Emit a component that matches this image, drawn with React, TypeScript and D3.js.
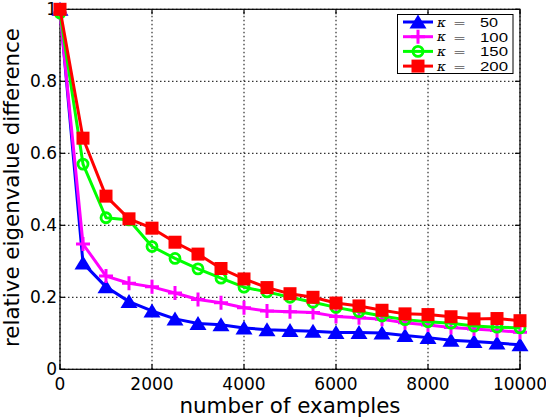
import { useEffect, useRef } from "react";
import * as d3 from "d3";

const examples = [
  0, 500, 1000, 1500, 2000, 2500, 3000, 3500, 4000, 4500, 5000, 5500, 6000,
  6500, 7000, 7500, 8000, 8500, 9000, 9500, 10000,
];
const kappas = [50, 100, 150, 200];

const kappa50 = [
  1.0, 0.295, 0.229, 0.188, 0.162, 0.14, 0.127, 0.124, 0.115, 0.11, 0.108,
  0.106, 0.102, 0.102, 0.101, 0.094, 0.088, 0.081, 0.077, 0.073, 0.068,
];
const kappa100 = [
  0.99, 0.348, 0.259, 0.239, 0.229, 0.212, 0.194, 0.185, 0.171, 0.162, 0.16,
  0.158, 0.147, 0.143, 0.139, 0.129, 0.123, 0.116, 0.112, 0.108, 0.103,
];
const kappa150 = [
  0.99, 0.57, 0.421, 0.415, 0.341, 0.308, 0.279, 0.253, 0.228, 0.215, 0.2,
  0.186, 0.172, 0.16, 0.148, 0.138, 0.132, 0.128, 0.12, 0.117, 0.115,
];
const kappa200 = [
  1.0, 0.642, 0.481, 0.418, 0.392, 0.353, 0.32, 0.28, 0.251, 0.227, 0.21,
  0.2, 0.184, 0.176, 0.164, 0.154, 0.152, 0.146, 0.14, 0.141, 0.135,
];

const xTicks = [0, 2000, 4000, 6000, 8000, 10000];
const yTicks = [0, 0.2, 0.4, 0.6, 0.8, 1];

const seriesList = [
  { values: kappa50, color: "#0000ff", marker: "triangle" },
  { values: kappa100, color: "#ff00ff", marker: "plus" },
  { values: kappa150, color: "#00ff00", marker: "circle" },
  { values: kappa200, color: "#ff0000", marker: "square" },
];

const W = 546;
const H = 420;

function drawMarker(g: any, type: string, color: string) {
  if (type === "triangle") {
    g.append("path").attr("d", "M0,-7.5L8.5,6.5L-8.5,6.5Z").attr("fill", color);
  } else if (type === "plus") {
    g.append("path")
      .attr("d", "M-7,0H7M0,-7V7")
      .attr("stroke", color)
      .attr("stroke-width", 3)
      .attr("fill", "none");
  } else if (type === "circle") {
    g.append("circle")
      .attr("r", 5)
      .attr("stroke", color)
      .attr("stroke-width", 2.8)
      .attr("fill", "none");
  } else {
    g.append("rect")
      .attr("x", -6.5)
      .attr("y", -6.5)
      .attr("width", 13)
      .attr("height", 13)
      .attr("fill", color);
  }
}

export default function App() {
  const ref = useRef<SVGSVGElement | null>(null);

  useEffect(() => {
    if (!ref.current) return;
    const svg = d3.select(ref.current);
    svg.selectAll("*").remove();

    const x = d3.scaleLinear([0, 10000], [60, 520]);
    const y = d3.scaleLinear([0, 1], [369.3, 9.3]);

    svg.append("rect").attr("width", W).attr("height", H).attr("fill", "#fff");

    // grid
    const grid = svg.append("g").attr("stroke", "#000").attr("stroke-width", 1)
      .attr("stroke-dasharray", "1.5,2.5");
    grid.selectAll("line.gx").data(xTicks).join("line")
      .attr("x1", (d) => x(d)).attr("x2", (d) => x(d))
      .attr("y1", y(0)).attr("y2", y(1));
    grid.selectAll("line.gy").data(yTicks).join("line")
      .attr("x1", x(0)).attr("x2", x(10000))
      .attr("y1", (d) => y(d)).attr("y2", (d) => y(d));

    // box + ticks
    svg.append("rect")
      .attr("x", x(0)).attr("y", y(1))
      .attr("width", x(10000) - x(0)).attr("height", y(0) - y(1))
      .attr("fill", "none").attr("stroke", "#000").attr("stroke-width", 1.2);
    const ticks = svg.append("g").attr("stroke", "#000").attr("stroke-width", 1.2);
    xTicks.forEach((t) => {
      ticks.append("line").attr("x1", x(t)).attr("x2", x(t)).attr("y1", y(0)).attr("y2", y(0) - 5);
      ticks.append("line").attr("x1", x(t)).attr("x2", x(t)).attr("y1", y(1)).attr("y2", y(1) + 5);
    });
    yTicks.forEach((t) => {
      ticks.append("line").attr("x1", x(0)).attr("x2", x(0) + 5).attr("y1", y(t)).attr("y2", y(t));
      ticks.append("line").attr("x1", x(10000)).attr("x2", x(10000) - 5).attr("y1", y(t)).attr("y2", y(t));
    });

    const font = "DejaVu Sans, sans-serif";
    svg.append("g").selectAll("text").data(xTicks).join("text")
      .attr("x", (d) => x(d)).attr("y", 390)
      .attr("text-anchor", "middle").attr("font-family", font).attr("font-size", 17)
      .text((d) => String(d));
    svg.append("g").selectAll("text").data(yTicks).join("text")
      .attr("x", 57).attr("y", (d) => y(d) + 6)
      .attr("text-anchor", "end").attr("font-family", font).attr("font-size", 17)
      .text((d) => String(d));

    svg.append("text")
      .attr("x", 290).attr("y", 413)
      .attr("text-anchor", "middle").attr("font-family", font).attr("font-size", 21)
      .attr("textLength", 221).attr("lengthAdjust", "spacingAndGlyphs")
      .text("number of examples");
    svg.append("text")
      .attr("transform", `translate(19,${(28 + 347) / 2}) rotate(-90)`)
      .attr("text-anchor", "middle").attr("font-family", font).attr("font-size", 21)
      .attr("textLength", 319).attr("lengthAdjust", "spacingAndGlyphs")
      .text("relative eigenvalue difference");

    // series
    seriesList.forEach((s) => {
      const pts: [number, number][] = examples.map((e, i) => [x(e), y(s.values[i])]);
      svg.append("path")
        .attr("d", d3.line()(pts))
        .attr("fill", "none").attr("stroke", s.color)
        .attr("stroke-width", 3).attr("stroke-linejoin", "round");
      pts.forEach((p) => {
        const g = svg.append("g").attr("transform", `translate(${p[0]},${p[1]})`);
        drawMarker(g, s.marker, s.color);
      });
    });

    // legend
    const lg = svg.append("g");
    lg.append("rect")
      .attr("x", 397.5).attr("y", 14.5).attr("width", 115.5).attr("height", 59)
      .attr("fill", "#fff").attr("stroke", "#000").attr("stroke-width", 1);
    seriesList.forEach((s, i) => {
      const cy = 22 + i * 14.7;
      lg.append("line").attr("x1", 403).attr("x2", 433).attr("y1", cy).attr("y2", cy)
        .attr("stroke", s.color).attr("stroke-width", 3);
      const g = lg.append("g").attr("transform", `translate(418,${cy})`);
      drawMarker(g, s.marker, s.color);
      lg.append("text").attr("x", 437).attr("y", cy + 4.5)
        .attr("font-family", "DejaVu Serif, serif").attr("font-style", "italic")
        .attr("font-size", 13).attr("textLength", 9).attr("lengthAdjust", "spacingAndGlyphs")
        .text("κ");
      lg.append("text").attr("x", 453).attr("y", cy + 5)
        .attr("font-family", "DejaVu Sans, sans-serif").attr("font-weight", 200)
        .attr("font-size", 13).attr("textLength", 13).attr("lengthAdjust", "spacingAndGlyphs")
        .text("=");
      lg.append("text").attr("x", 480).attr("y", cy + 5)
        .attr("font-family", "Liberation Sans, sans-serif")
        .attr("font-size", 13)
        .attr("textLength", kappas[i] < 100 ? 18 : 28).attr("lengthAdjust", "spacingAndGlyphs")
        .text(String(kappas[i]));
    });
  }, []);

  return (
    <svg
      ref={ref}
      width={W}
      height={H}
      style={{ position: "absolute", left: 0, top: 0 }}
    />
  );
}
